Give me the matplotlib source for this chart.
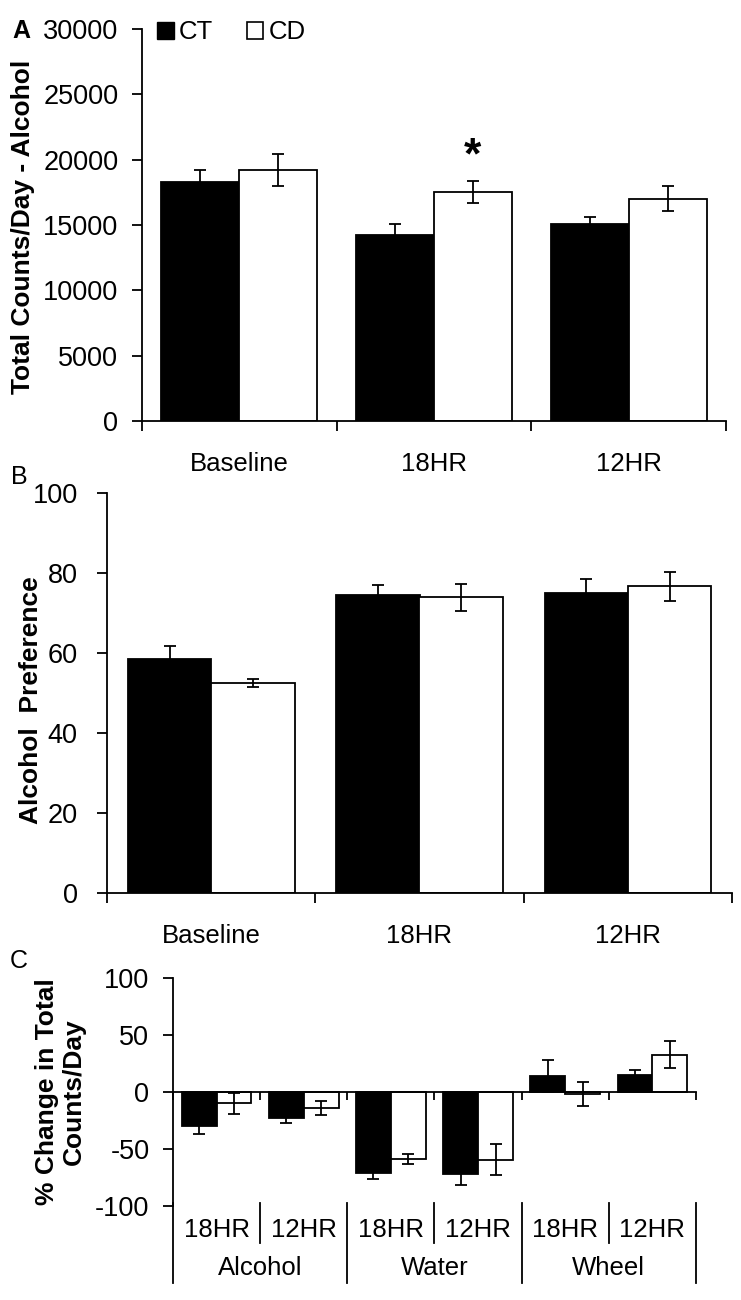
import matplotlib
matplotlib.use('Agg')
import matplotlib.pyplot as plt
import numpy as np
from matplotlib.patches import Patch

plt.rcParams['font.family'] = ['Liberation Sans', 'DejaVu Sans']
plt.rcParams['axes.unicode_minus'] = False

# Panel A / B data
groups = ['Baseline', '18HR', '12HR']
counts_ct = [18300, 14250, 15100]
counts_ct_err = [900, 830, 500]
counts_cd = [19200, 17500, 17000]
counts_cd_err = [1200, 850, 950]

pref_ct = [58.5, 74.6, 75.1]
pref_ct_err = [3.3, 2.3, 3.5]
pref_cd = [52.6, 73.9, 76.7]
pref_cd_err = [1.0, 3.3, 3.6]

# Panel C data
sub_labels = ['18HR', '12HR', '18HR', '12HR', '18HR', '12HR']
measures = ['Alcohol', 'Water', 'Wheel']
change_ct = [-30, -22.6, -71.4, -72.3, 14, 15]
change_ct_err = [7, 5, 4.5, 9, 14.3, 4]
change_cd = [-10, -14, -58.6, -59.5, -2, 32.7]
change_cd_err = [9.5, 6.5, 4.5, 13.5, 10.5, 12]

W, H = 741, 1300
FS = 18.5
LW = 1.3


def box(left, top, right, bottom):
    return [left / W, 1 - bottom / H, (right - left) / W, (bottom - top) / H]


def bars(ax, ct, ct_err, cd, cd_err):
    x = np.arange(len(ct))
    w = 0.4
    ek = dict(ecolor='black', elinewidth=LW, capsize=4, capthick=LW)
    ax.bar(x - w / 2, ct, w, color='black', edgecolor='black', linewidth=LW,
           yerr=ct_err, error_kw=ek)
    ax.bar(x + w / 2, cd, w, color='white', edgecolor='black', linewidth=LW,
           yerr=cd_err, error_kw=ek)
    ax.set_xlim(-0.5, len(ct) - 0.5)
    for s in ['top', 'right']:
        ax.spines[s].set_visible(False)
    for s in ['left', 'bottom']:
        ax.spines[s].set_linewidth(LW)
    ax.tick_params(axis='y', direction='out', length=7, width=LW, labelsize=19.5, pad=10)
    return x


fig = plt.figure(figsize=(W / 100, H / 100), dpi=100)

# ---- Panel A
axA = fig.add_axes(box(142, 29, 726, 421))
x = bars(axA, counts_ct, counts_ct_err, counts_cd, counts_cd_err)
axA.set_ylim(0, 30000)
axA.set_yticks(np.arange(0, 30001, 5000))
axA.set_xticks(x)
axA.set_xticklabels(groups)
axA.set_xticks(np.arange(-0.5, len(groups)), minor=True)
axA.tick_params(axis='x', which='major', length=0, labelsize=FS, pad=22)
axA.tick_params(axis='x', which='minor', direction='out', length=7, width=LW)
axA.text(1.2, counts_cd[1] + counts_cd_err[1] + 300, '*', ha='center', va='bottom',
         fontsize=32, fontweight='bold')
legend_elements = [Patch(facecolor='black', edgecolor='black', label='CT'),
                   Patch(facecolor='white', edgecolor='black', linewidth=1.2, label='CD')]
axA.legend(handles=legend_elements, loc='center left', bbox_to_anchor=(0.026, 0.992),
           frameon=False, fontsize=FS, ncol=2, handlelength=0.65, handleheight=0.65,
           handletextpad=0.2, columnspacing=1.3, borderpad=0, borderaxespad=0)

# ---- Panel B
axB = fig.add_axes(box(107, 493, 732, 893))
x = bars(axB, pref_ct, pref_ct_err, pref_cd, pref_cd_err)
axB.set_ylim(0, 100)
axB.set_yticks(np.arange(0, 101, 20))
axB.tick_params(axis='y', pad=14)
axB.set_xticks(x)
axB.set_xticklabels(groups)
axB.set_xticks(np.arange(-0.5, len(groups)), minor=True)
axB.tick_params(axis='x', which='major', length=0, labelsize=FS, pad=22)
axB.tick_params(axis='x', which='minor', direction='out', length=7, width=LW)

# ---- Panel C
axC = fig.add_axes(box(173, 978, 696, 1206))
x = bars(axC, change_ct, change_ct_err, change_cd, change_cd_err)
axC.set_ylim(-100, 100)
axC.set_yticks(np.arange(-100, 101, 50))
axC.spines['bottom'].set_position(('data', 0))
axC.set_xticks(np.arange(-0.5, len(sub_labels)))
axC.set_xticklabels([])
axC.tick_params(axis='x', direction='out', length=6, width=LW)
tr = axC.get_xaxis_transform()
for i, lab in enumerate(sub_labels):
    axC.text(i, -0.105, lab, transform=tr, ha='center', va='center', fontsize=FS)
for j, lab in enumerate(measures):
    axC.text(2 * j + 0.5, -0.272, lab, transform=tr, ha='center', va='center', fontsize=FS)
for b in np.arange(-0.5, len(sub_labels)):
    bottom = -0.338 if (b + 0.5) % 2 == 0 else -0.162
    axC.plot([b, b], [0.015, bottom], transform=tr, color='black', lw=LW, clip_on=False)

# axis titles and panel letters
fig.text(23 / W, 1 - 227 / H, 'Total Counts/Day - Alcohol', rotation=90, ha='center',
         va='center', fontsize=19, fontweight='bold')
fig.text(31 / W, 1 - 700 / H, 'Alcohol  Preference', rotation=90, ha='center',
         va='center', fontsize=19, fontweight='bold')
fig.text(60 / W, 1 - 1092 / H, '% Change in Total\nCounts/Day', rotation=90, ha='center',
         va='center', fontsize=19, fontweight='bold', linespacing=1.15)
fig.text(21 / W, 1 - 31 / H, 'A', ha='center', va='center', fontsize=18, fontweight='bold')
fig.text(19 / W, 1 - 477 / H, 'B', ha='center', va='center', fontsize=18)
fig.text(19 / W, 1 - 961 / H, 'C', ha='center', va='center', fontsize=18)

fig.savefig('out.png', dpi=100)
